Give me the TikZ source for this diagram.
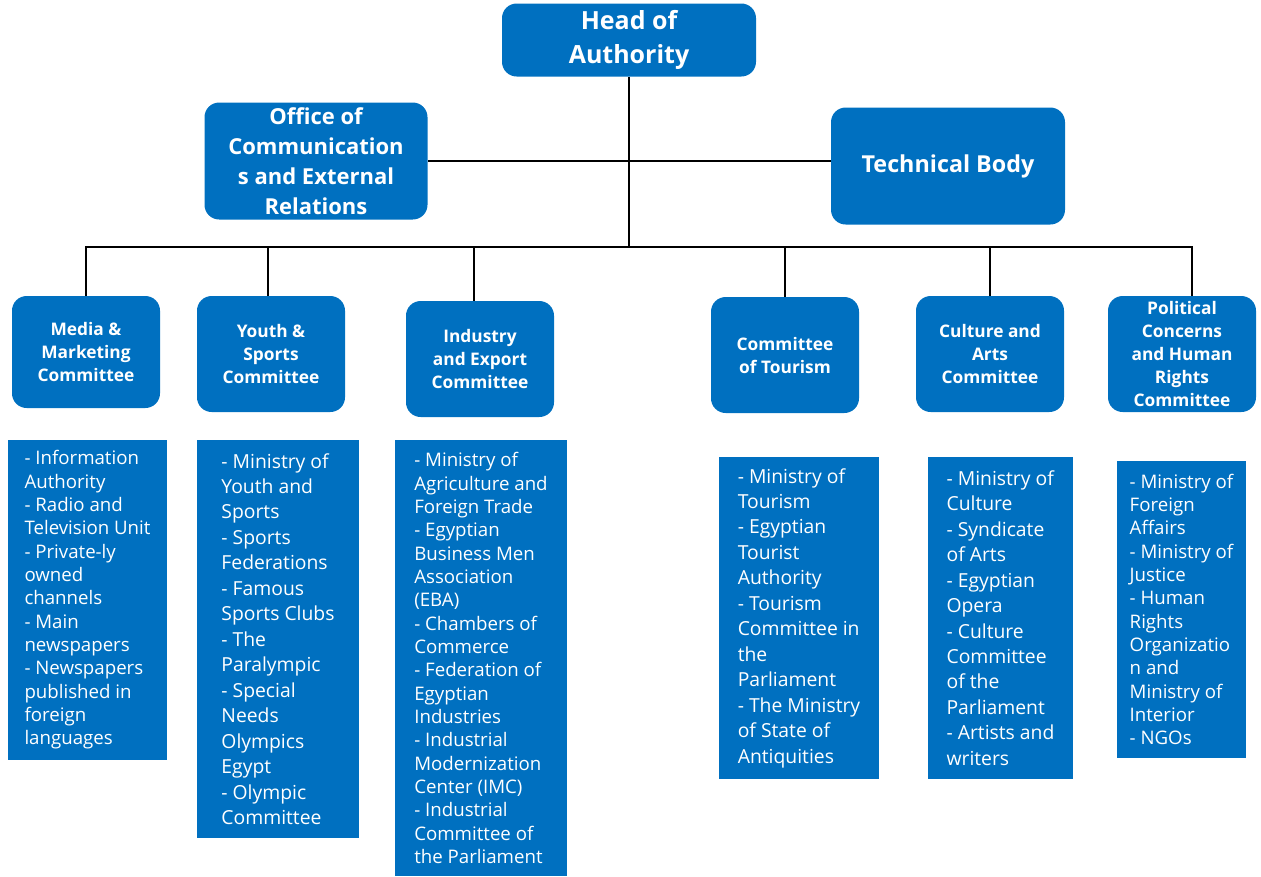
\documentclass[tikz,border=0pt]{standalone}
\usepackage{fontspec}
\setmainfont{Open Sans}
\usetikzlibrary{positioning}
\definecolor{unitblue}{RGB}{0,112,192}
\tikzset{every picture/.style={line width=0.75pt}}
\tikzset{
unit/.style={fill=unitblue, text=white, rounded corners=11pt, align=center, inner sep=2pt, font=\bfseries},
topunit/.style={unit, font=\fontsize{16.5}{22.5}\selectfont\bfseries},
cmte/.style={unit, minimum width=111pt, minimum height=87pt, font=\fontsize{13}{17.25}\selectfont\bfseries},
members/.style={fill=unitblue, text=white, align=left, inner sep=0pt, font=\fontsize{14}{17.5}\selectfont},
bigmembers/.style={members, font=\fontsize{14.5}{19.1}\selectfont},
link/.style={line width=1.5pt}}

\begin{document}
\begin{tikzpicture}[x=0.75pt,y=0.75pt,yscale=-1]
\path[use as bounding box] (0,0) rectangle (1261,876);

% Text Node
\node[unit, minimum width=190.5pt, minimum height=54.75pt, font=\fontsize{18.75}{25.5}\selectfont\bfseries] (head) at (629,40) {Head of\\Authority};
% Text Node
\node[topunit, minimum width=167.25pt, minimum height=87.75pt] (office) at (316,161) {Office of\\Communication\\s and External\\Relations};
% Text Node
\node[topunit, minimum width=175.5pt, minimum height=87.75pt, font=\fontsize{17.5}{22.5}\selectfont\bfseries] (tech) at (948,166) {Technical Body};

% Text Node
\node[cmte, minimum height=84pt] (media) at (86,352) {Media \&\\Marketing\\Committee};
\node[cmte] (youth) at (271,354) {Youth \&\\Sports\\Committee};
\node[cmte] (industry) at (480,359) {Industry\\and Export\\Committee};
\node[cmte] (tourism) at (785,355) {Committee\\of Tourism};
\node[cmte] (culture) at (990,354) {Culture and\\Arts\\Committee};
\node[cmte] (political) at (1182,354) {Political\\Concerns\\and Human\\Rights\\Committee};

% Text Node
\node[members, minimum width=119.25pt, minimum height=240pt] (mediaList) at (87.5,600) {- Information\\Authority\\- Radio and\\Television Unit\\- Private-ly\\owned\\channels\\- Main\\newspapers\\- Newspapers\\published in\\foreign\\languages};
\node[bigmembers, minimum width=121.5pt, minimum height=298.5pt] (youthList) at (278,639) {- Ministry of\\Youth and\\Sports\\- Sports\\Federations\\- Famous\\Sports Clubs\\- The\\Paralympic\\- Special\\Needs\\Olympics\\Egypt\\- Olympic\\Committee};
\node[members, minimum width=129pt, minimum height=327pt] (industryList) at (481,658) {- Ministry of\\Agriculture and\\Foreign Trade\\- Egyptian\\Business Men\\Association\\(EBA)\\- Chambers of\\Commerce\\- Federation of\\Egyptian\\Industries\\- Industrial\\Modernization\\Center (IMC)\\- Industrial\\Committee of\\the Parliament};
\node[bigmembers, minimum width=120pt, minimum height=241.5pt] (tourismList) at (799,618) {- Ministry of\\Tourism\\- Egyptian\\Tourist\\Authority\\- Tourism\\Committee in\\the\\Parliament\\- The Ministry\\of State of\\Antiquities};
\node[bigmembers, minimum width=108.75pt, minimum height=241.5pt] (cultureList) at (1000.5,618) {- Ministry of\\Culture\\- Syndicate\\of Arts\\- Egyptian\\Opera\\- Culture\\Committee\\of the\\Parliament\\- Artists and\\writers};
\node[members, minimum width=96.75pt, minimum height=222.75pt] (politicalList) at (1181.5,609.5) {- Ministry of\\Foreign\\Affairs\\- Ministry of\\Justice\\- Human\\Rights\\Organizatio\\n and\\Ministry of\\Interior\\- NGOs};

%Straight Lines
\coordinate (bus) at (629,247);
\draw[link] (head.south) -- (bus);
\draw[link] (office.east) -- (office.east -| tech.west);
\draw[link] (bus) -| ([xshift=-2pt]youth.north);
\draw[link] (bus) -| (media.north);
\draw[link] (bus) -| ([xshift=-4.5pt]industry.north);
\draw[link] (bus) -| (tourism.north);
\draw[link] (bus) -| (culture.north);
\draw[link] (bus) -| ([xshift=7.5pt]political.north);

\end{tikzpicture}
\end{document}
